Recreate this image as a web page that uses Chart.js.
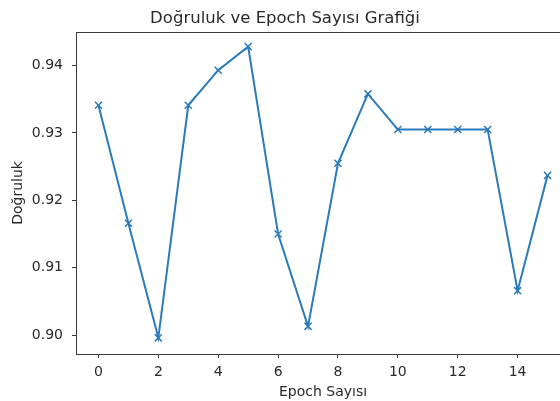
<!DOCTYPE html>
<html>
<head>
<meta charset="utf-8">
<script src="https://cdn.jsdelivr.net/npm/chart.js@4.4.1/dist/chart.umd.min.js"></script>
<style>
  html, body { margin: 0; padding: 0; background: #fff; overflow: hidden; }
  #wrap { width: 560px; height: 401px; overflow: hidden; position: relative; }
  canvas { position: absolute; left: 0; top: 0; }
</style>
</head>
<body>
<div id="wrap"><canvas id="acc-chart" width="600" height="401"></canvas></div>
<script>
// values
var epochs = [0, 1, 2, 3, 4, 5, 6, 7, 8, 9, 10, 11, 12, 13, 14, 15];
var accuracy = [0.9341, 0.9166, 0.8996, 0.9341, 0.9393, 0.9428, 0.9150, 0.9013,
                0.9255, 0.9358, 0.9305, 0.9305, 0.9305, 0.9305, 0.9066, 0.9237];
var xTicks = [0, 2, 4, 6, 8, 10, 12, 14];
var yTicks = [0.90, 0.91, 0.92, 0.93, 0.94];

var textColor = '#2a2a2a';
var axisColor = '#3a3a3a';
var lineColor = '#2b7bba';

//draw the matplotlib style box round the plot
var frame = {
  id: 'frame',
  afterDraw: function(chart) {
    var a = chart.chartArea, ctx = chart.ctx;
    ctx.save();
    ctx.strokeStyle = axisColor;
    ctx.lineWidth = 1;
    ctx.strokeRect(Math.round(a.left) + 0.5, Math.round(a.top) + 0.5,
                   Math.round(a.right - a.left), Math.round(a.bottom - a.top));
    ctx.restore();
  }
};

var points = epochs.map(function(e, i) { return { x: e, y: accuracy[i] }; });

new Chart(document.getElementById('acc-chart'), {
  type: 'line',
  data: {
    datasets: [{
      data: points,
      borderColor: lineColor,
      borderWidth: 2,
      pointStyle: 'crossRot',
      pointRadius: 5,
      pointBorderWidth: 1.5,
      pointBorderColor: lineColor,
      tension: 0
    }]
  },
  options: {
    responsive: false,
    animation: false,
    devicePixelRatio: 1,
    layout: { padding: { left: 0, right: 30, top: 0, bottom: 0 } },
    plugins: {
      legend: { display: false },
      tooltip: { enabled: false },
      title: {
        display: true,
        text: 'Doğruluk ve Epoch Sayısı Grafiği',
        color: textColor,
        font: { family: 'DejaVu Sans', size: 16.5, weight: 'normal' },
        padding: { top: 9, bottom: 3 }
      }
    },
    scales: {
      x: {
        type: 'linear',
        min: -0.75,
        max: 15.75,
        afterBuildTicks: function(s) { s.ticks = xTicks.map(function(v) { return { value: v }; }); },
        afterFit: function(s) { s.height = 47; },
        grid: { display: true, drawOnChartArea: false, drawTicks: true, tickLength: 4, color: axisColor },
        border: { display: false },
        ticks: { color: textColor, padding: 6, font: { family: 'DejaVu Sans', size: 14 } },
        title: {
          display: true, text: 'Epoch Sayısı', color: textColor,
          font: { family: 'DejaVu Sans', size: 14 }, padding: { top: 0, bottom: 0 }
        }
      },
      y: {
        min: 0.8972,
        max: 0.9450,
        afterBuildTicks: function(s) { s.ticks = yTicks.map(function(v) { return { value: v }; }); },
        afterFit: function(s) { s.width = 76; },
        grid: { display: true, drawOnChartArea: false, drawTicks: true, tickLength: 4, color: axisColor },
        border: { display: false },
        ticks: {
          color: textColor, padding: 9, font: { family: 'DejaVu Sans', size: 14 },
          callback: function(v) { return v.toFixed(2); }
        },
        title: {
          display: true, text: 'Doğruluk', color: textColor,
          font: { family: 'DejaVu Sans', size: 14 }, padding: { top: 10, bottom: 0 }
        }
      }
    }
  },
  plugins: [frame]
});
</script>
</body>
</html>
